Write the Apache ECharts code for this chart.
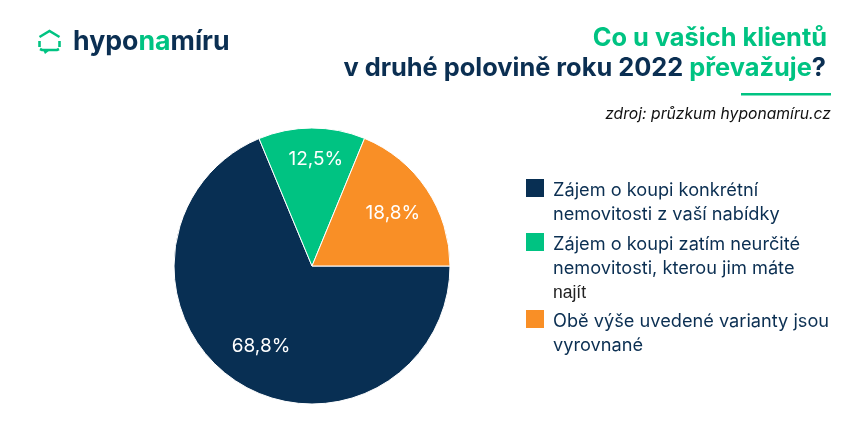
<!DOCTYPE html>
<html>
<head>
<meta charset="utf-8">
<style>
  html, body { margin: 0; padding: 0; background: #fff; }
  #Chart { width: 856px; height: 446px; }
</style>
<script src="https://cdn.jsdelivr.net/npm/echarts@6/dist/echarts.min.js"></script>
</head>
<body>
<div id="Chart"></div>
<script>
const categories = [
  "Zájem o koupi konkrétní\nnemovitosti z vaší nabídky",
  "Zájem o koupi zatím neurčité\nnemovitosti, kterou jim máte\nnajít",
  "Obě výše uvedené varianty jsou\nvyrovnané"
]
const shares = [ 68.8, 12.5, 18.8 ]
const sliceColors = [ "#082f53", "#00c382", "#f98f26" ]
const labelShift = [ [ -11, 20 ], [ 4, -35 ], [ 21, -13 ] ]
const legendTops = [ 177, 231, 308 ]
const legendLines = [ 2, 3, 2 ]

const NAVY = "#0b2f52"
const GREEN = "#00c382"
const FONT = "Inter, 'Noto Sans', sans-serif"

const chart = echarts.init(document.getElementById("Chart"), null, { renderer: "canvas" })

const lineH = 24.5
const legends = categories.map((name, i) => {
  const h = legendLines[i] * lineH
  return {
    left: 524,
    top: legendTops[i],
    padding: 0,
    itemWidth: 20,
    itemHeight: h,
    itemGap: 0,
    selectedMode: false,
    // the swatch sits on the first text line, the empty subpath stretches the icon box
    icon: `path://M0,0H20V20H0Z M0,${h}L0,${h}`,
    data: [ name ],
    textStyle: {
      fontFamily: FONT,
      fontSize: 18.2,
      lineHeight: lineH,
      color: NAVY,
      padding: [ 0, 0, 0, 3 ]
    },
    formatter: (n) => n.replace("najít", "{dark|najít}")
  }
})
legends[1].textStyle.rich = { dark: { color: "#222", fontSize: 17.5, fontFamily: "'Liberation Sans', sans-serif", lineHeight: lineH } }

const option = {
  animation: false,
  backgroundColor: "#fff",
  color: sliceColors,
  textStyle: { fontFamily: FONT },
  legend: legends,
  title: [
    {
      text: "Co u vašich klientů",
      right: 29,
      top: 23,
      padding: 0,
      textStyle: { fontFamily: FONT, fontSize: 25.4, fontWeight: 700, color: GREEN, lineHeight: 30 }
    },
    {
      text: "v druhé polovině roku 2022 {g|převažuje}?",
      right: 30,
      top: 53,
      padding: 0,
      textStyle: {
        fontFamily: FONT, fontSize: 25.4, fontWeight: 700, color: NAVY, lineHeight: 30,
        rich: { g: { fontFamily: FONT, fontSize: 25.4, fontWeight: 700, color: GREEN, lineHeight: 30 } }
      }
    },
    {
      text: "zdroj: průzkum hyponamíru.cz",
      right: 25,
      top: 106,
      padding: 0,
      textStyle: { fontFamily: FONT, fontSize: 15.7, fontWeight: 400, fontStyle: "italic", color: "#111" }
    },
    {
      text: "hypo{g|na}míru",
      left: 73,
      top: 27,
      padding: 0,
      textStyle: {
        fontFamily: FONT, fontSize: 26.7, fontWeight: 700, color: NAVY, lineHeight: 30,
        rich: { g: { fontFamily: FONT, fontSize: 26.7, fontWeight: 700, color: GREEN, lineHeight: 30 } }
      }
    }
  ],
  graphic: [
    { type: "rect", shape: { x: 741, y: 93, width: 90, height: 2.5 }, style: { fill: GREEN } },
    {
      type: "polyline",
      shape: { points: [ [ 39.5, 37 ], [ 49.5, 31 ], [ 59.5, 37 ] ] },
      style: { stroke: GREEN, lineWidth: 2.6, fill: null }
    },
    { type: "line", shape: { x1: 39.5, y1: 41, x2: 39.5, y2: 47 }, style: { stroke: GREEN, lineWidth: 2.6 } },
    { type: "line", shape: { x1: 59.5, y1: 41, x2: 59.5, y2: 47 }, style: { stroke: GREEN, lineWidth: 2.6 } },
    {
      type: "polyline",
      shape: { points: [ [ 40, 49 ], [ 42, 50 ], [ 57, 50 ], [ 59, 49 ] ] },
      style: { stroke: GREEN, lineWidth: 2.6, fill: null }
    },
    {
      type: "polygon",
      shape: { points: [ [ 43, 50 ], [ 50, 50 ], [ 45, 54 ] ] },
      style: { fill: GREEN }
    }
  ],
  series: [
    {
      type: "pie",
      center: [ 312, 266 ],
      radius: [ 0, 138 ],
      startAngle: 0,
      clockwise: true,
      itemStyle: { borderColor: "#fff", borderWidth: 1 },
      label: {
        position: "inner",
        color: "#fff",
        fontFamily: FONT,
        fontSize: 19,
        formatter: (p) => String(p.value).replace(".", ",") + "%"
      },
      labelLine: { show: false },
      emphasis: { disabled: true },
      labelLayout: (p) => ({ dx: labelShift[p.dataIndex][0], dy: labelShift[p.dataIndex][1] }),
      data: categories.map((name, i) => ({ name, value: shares[i] }))
    }
  ]
}
chart.setOption(option)
</script>
</body>
</html>
